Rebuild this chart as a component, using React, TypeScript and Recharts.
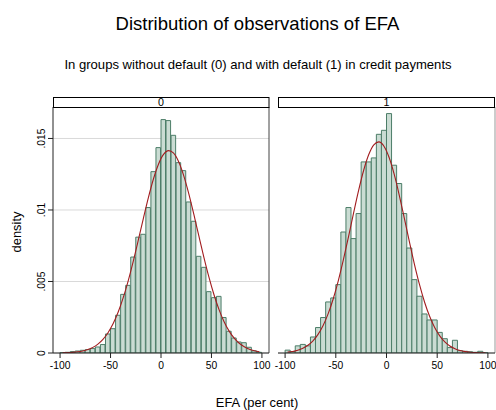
import React from "react";
import {
  ComposedChart,
  Bar,
  Line,
  XAxis,
  YAxis,
  CartesianGrid,
  ReferenceLine,
} from "recharts";

// bin centres (width 5) shared by both groups
const binCenters = [
  -97.5, -92.5, -87.5, -82.5, -77.5, -72.5, -67.5, -62.5, -57.5, -52.5,
  -47.5, -42.5, -37.5, -32.5, -27.5, -22.5, -17.5, -12.5, -7.5, -2.5,
  2.5, 7.5, 12.5, 17.5, 22.5, 27.5, 32.5, 37.5, 42.5, 47.5,
  52.5, 57.5, 62.5, 67.5, 72.5, 77.5, 82.5, 87.5, 92.5, 97.5,
];

// group 0: histogram densities
const density0 = [
  0.00003, 0.00005, 0.0001, 0.00014, 0.00019, 0.00024, 0.00031, 0.00042, 0.00059, 0.00133,
  0.0017, 0.00264, 0.0041, 0.00473, 0.00671, 0.0081, 0.0083, 0.01017, 0.01268, 0.01436,
  0.01632, 0.01625, 0.01522, 0.01331, 0.01275, 0.01056, 0.00921, 0.00676, 0.00599, 0.00429,
  0.00387, 0.00396, 0.00248, 0.00152, 0.00105, 0.00077, 0.00072, 0.0004, 0.00015, 0.00005,
];

// group 0: fitted normal curve
const normal0 = [
  0.000013, 0.000025, 0.000046, 0.000082, 0.000143, 0.000241, 0.000393, 0.000622, 0.000954, 0.001418,
  0.00204, 0.002847, 0.00385, 0.005045, 0.006407, 0.007884, 0.009401, 0.010864, 0.012166, 0.013202,
  0.013884, 0.014148, 0.013971, 0.01337, 0.012398, 0.011142, 0.009703, 0.008187, 0.006694, 0.005305,
  0.004074, 0.003031, 0.002186, 0.001528, 0.001035, 0.000679, 0.000432, 0.000266, 0.000159, 0.000092,
];

// group 1: histogram densities
const density1 = [
  0.0002, 0.0001, 0.0005, 0.0006, 0.0005, 0.00112, 0.00178, 0.00248, 0.00357, 0.00385,
  0.00478, 0.00846, 0.01017, 0.008, 0.00975, 0.01336, 0.01336, 0.01364, 0.01529, 0.01557,
  0.01674, 0.01313, 0.01185, 0.00975, 0.00734, 0.00513, 0.00397, 0.00273, 0.00231, 0.00231,
  0.00144, 0.001, 0.00038, 0.00089, 0.00016, 0.00012, 0.00009, 0.00005, 0.00012, 0.00002,
];

// group 1: fitted normal curve
const normal1 = [
  0.000061, 0.00011, 0.000194, 0.000328, 0.000538, 0.000851, 0.001302, 0.001925, 0.00275, 0.003795,
  0.005063, 0.006524, 0.008125, 0.009779, 0.011371, 0.012778, 0.013874, 0.014556, 0.01476, 0.014457,
  0.013685, 0.012518, 0.011064, 0.00945, 0.007798, 0.006218, 0.004793, 0.003568, 0.002567, 0.001784,
  0.001199, 0.000778, 0.000488, 0.000296, 0.000173, 0.000098, 0.000054, 0.000028, 0.000015, 0.000007,
];

const xTicks = [-100, -50, 0, 50, 100];
const yTicks = [0, 0.005, 0.01, 0.015];
const yTickLabels = ["0", ".005", ".01", ".015"];

const X_DOMAIN: [number, number] = [-107, 107];
const Y_DOMAIN: [number, number] = [0, 0.0172];

const FONT = "'Liberation Sans', Arial, Helvetica, sans-serif";
const BAR_FILL = "#cadcd3";
const BAR_STROKE = "#4c7d68";
const CURVE = "#a21c1f";
const GRID = "#d9d9d9";

const rows0 = binCenters.map((x, i) => ({ x, d: density0[i], n: normal0[i] }));
const rows1 = binCenters.map((x, i) => ({ x, d: density1[i], n: normal1[i] }));

function YTick(props: any) {
  const { x, y, payload } = props;
  const label = yTickLabels[yTicks.indexOf(payload.value)];
  return (
    <text
      x={x}
      y={y}
      transform={`rotate(-90 ${x} ${y})`}
      textAnchor="middle"
      fontSize={10.3}
      fill="#000"
    >
      {label}
    </text>
  );
}

function Panel({
  rows,
  left,
  width,
  margin,
  showY,
  rightEdge,
}: {
  rows: any[];
  left: number;
  width: number;
  margin: any;
  showY: boolean;
  rightEdge: string;
}) {
  return (
    <div style={{ position: "absolute", left, top: 0 }}>
      <ComposedChart width={width} height={410} data={rows} margin={margin}>
        <CartesianGrid vertical={false} stroke={GRID} />
        <XAxis
          type="number"
          dataKey="x"
          domain={X_DOMAIN}
          ticks={xTicks}
          interval={0}
          allowDataOverflow
          height={57}
          tickSize={5}
          tickMargin={4}
          tick={{ fontSize: 10.3, fill: "#000" }}
          stroke="#222"
        />
        {showY ? (
          <YAxis
            type="number"
            domain={Y_DOMAIN}
            ticks={yTicks}
            interval={0}
            allowDataOverflow
            width={53}
            tickSize={5}
            tickMargin={3}
            tick={<YTick />}
            stroke="#222"
          />
        ) : (
          <YAxis
            type="number"
            domain={Y_DOMAIN}
            ticks={yTicks}
            allowDataOverflow
            width={0}
            tick={false}
            tickLine={false}
            stroke="#333"
          />
        )}
        <Bar
          dataKey="d"
          fill={BAR_FILL}
          stroke={BAR_STROKE}
          strokeWidth={1}
          barSize={5.05}
          isAnimationActive={false}
        />
        <Line
          dataKey="n"
          type="monotone"
          stroke={CURVE}
          strokeWidth={1.1}
          dot={false}
          activeDot={false}
          isAnimationActive={false}
        />
        <ReferenceLine x={X_DOMAIN[1]} stroke={rightEdge} strokeWidth={1} />
      </ComposedChart>
    </div>
  );
}

export default function App() {
  return (
    <div
      style={{
        position: "absolute",
        left: 0,
        top: 0,
        width: 496,
        height: 410,
        background: "#fff",
        fontFamily: FONT,
      }}
    >
      <Panel
        rows={rows0}
        left={0}
        width={272}
        margin={{ top: 107, right: 3, bottom: 0, left: 0 }}
        showY
        rightEdge="#444"
      />
      <Panel
        rows={rows1}
        left={272}
        width={224}
        margin={{ top: 107, right: 1, bottom: 0, left: 6 }}
        showY={false}
        rightEdge="#999"
      />
      <svg
        width={496}
        height={410}
        style={{ position: "absolute", left: 0, top: 0, pointerEvents: "none" }}
        fontFamily={FONT}
      >
        <text x={257.5} y={29.5} textAnchor="middle" fontSize={18.5} fill="#000">
          Distribution of observations of EFA
        </text>
        <text x={258} y={68.5} textAnchor="middle" fontSize={13.1} fill="#000">
          In groups without default (0) and with default (1) in credit payments
        </text>
        <rect x={53.5} y={97.5} width={215.5} height={10} fill="#fff" stroke="#000" />
        <text x={161} y={106} textAnchor="middle" fontSize={10.7} fill="#000">
          0
        </text>
        <rect x={278.5} y={97.5} width={216} height={10} fill="#fff" stroke="#000" />
        <text x={386.4} y={106} textAnchor="middle" fontSize={10.7} fill="#000">
          1
        </text>
        <text
          x={21}
          y={232}
          transform="rotate(-90 21 232)"
          textAnchor="middle"
          fontSize={12.9}
          fill="#000"
        >
          density
        </text>
        <text x={257} y={407} textAnchor="middle" fontSize={12.9} fill="#000">
          EFA (per cent)
        </text>
      </svg>
    </div>
  );
}
